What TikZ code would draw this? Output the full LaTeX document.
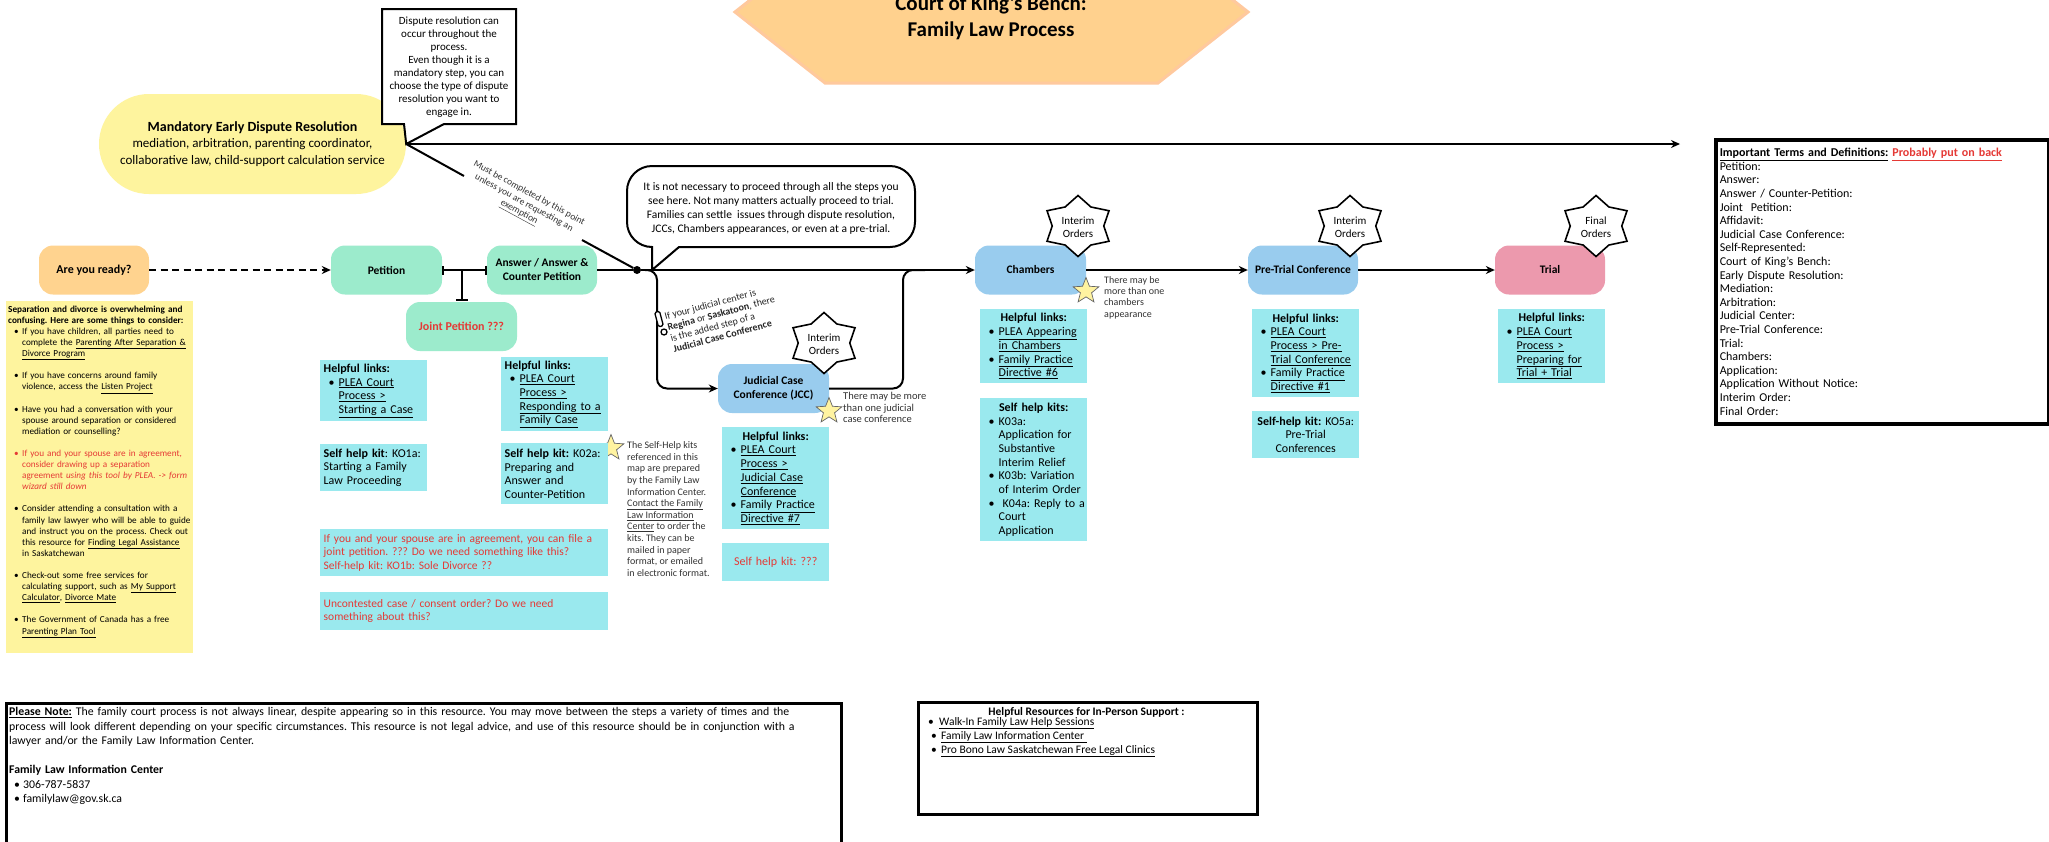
\documentclass[tikz,border=0pt]{standalone}
\usepackage{fontspec}
\setmainfont{Carlito}
\usetikzlibrary{arrows.meta,shapes.geometric,calc}

\definecolor{mint}{HTML}{9CEBCC}
\definecolor{infocyan}{HTML}{9AE9EE}
\definecolor{stepblue}{HTML}{99CCEE}
\definecolor{trialpink}{HTML}{EC99AD}
\definecolor{readyorange}{HTML}{FFD38F}
\definecolor{noteyellow}{HTML}{FEF49E}
\definecolor{alertred}{HTML}{E53935}
\definecolor{hexfill}{HTML}{FFD18E}
\definecolor{hexedge}{HTML}{FFC99E}
\definecolor{notegray}{HTML}{333333}
\definecolor{starfill}{HTML}{FFF3A0}

\newlength\bulpre \setlength\bulpre{5pt}
\newlength\bulw   \setlength\bulw{10pt}
\newcommand\bul{\hspace*{\bulpre}\makebox[\bulw][l]{•}}
\newcommand\bulind{\hspace*{\dimexpr\bulpre+\bulw\relax}}
\newcommand\fsz[2]{\fontsize{#1}{#2}\selectfont}
\newcommand\ctr[1]{\makebox[\hsize][c]{#1}}

\tikzset{
  stepbox/.style={rounded corners=14pt, minimum height=49pt, inner sep=2pt, align=center, font=\bfseries\fsz{11.5}{14}},
  infobox/.style={fill=infocyan, anchor=north west, inner xsep=3.5pt, inner ysep=0pt, text width=100pt, align=left, font=\fsz{12}{13.7}},
  mainln/.style={line width=2pt, draw=black},
  tip/.style={-{Stealth[length=9pt,width=8pt]}},
  ystar/.style={star, star points=5, star point ratio=2.3, minimum size=27pt, inner sep=0pt, fill=starfill, draw=black!60, line width=0.7pt},
  hstar/.style={line width=1.6pt, draw=black, fill=white, line join=miter},
  startext/.style={align=center, font=\fsz{11}{13}, inner sep=0pt},
  sidenote/.style={anchor=north west, align=left, inner sep=0pt, text=notegray},
  framebox/.style={draw=black, line width=3pt},
  slopenote/.style={rotate=-28.5, inner sep=0pt, text=notegray, font=\fsz{9.5}{11}},
}

% six-pointed outlined star centred on a point
\newcommand\hexagram[1]{%
  \draw[hstar, shift={(#1)}] plot[variable=\k, samples at={0,...,11}]
    ({35.8*(0.86+0.14*cos(180*\k))*cos(90+30*\k)},
     {30.5*(0.86+0.14*cos(180*\k))*sin(90+30*\k)}) -- cycle;}

\begin{document}
\frenchspacing
\begin{tikzpicture}[x=1pt,y=-1pt]
\clip (0,0) rectangle (2049,841);
\fill[white] (0,0) rectangle (2049,841);

% ---------- title hexagon ----------
\filldraw[fill=hexfill, draw=hexedge, line width=3pt]
  (735,12) -- (825,83) -- (1158,83) -- (1248,12) -- (1158,-59) -- (825,-59) -- cycle;
\node[align=center, inner sep=0pt, font=\bfseries\fsz{21}{26}] (title) at (991,18)
  {Court of King’s Bench:\\Family Law Process};

% ---------- early dispute resolution ----------
\node[fill=noteyellow, rounded corners=50pt, minimum width=307pt, minimum height=100pt,
      inner sep=0pt, align=center, font=\fsz{13}{16.5}] (med) at (252.5,144)
  {{\bfseries\fsz{14}{16.5}Mandatory Early Dispute Resolution}\\
   mediation, arbitration, parenting coordinator,\\
   collaborative law, child-support calculation service};

% callout above it
\filldraw[fill=white, draw=black, line width=2pt, line join=miter]
  (382,9) -- (516,9) -- (516,124) -- (444,124) -- (med.east) -- (404,124) -- (382,124) -- cycle;
\node[align=center, inner sep=0pt, font=\fsz{11}{13.1}] (drnote) at (449,67)
  {Dispute resolution can\\occur throughout the\\process.\\Even though it is a\\mandatory step, you can\\choose the type of dispute\\resolution you want to\\engage in.};

% ---------- main step boxes ----------
\node[stepbox, fill=readyorange, minimum width=110pt, font=\bfseries\fsz{12}{14}] (ready) at (94,270) {Are you ready?};
\node[stepbox, fill=mint, minimum width=111pt] (pet) at (386.5,270) {Petition};
\node[stepbox, fill=mint, minimum width=110pt] (ans) at (542,270) {Answer / Answer \&\\Counter Petition};
\node[stepbox, fill=mint, minimum width=111pt, text=alertred, font=\bfseries\fsz{12}{14}] (joint) at (461.5,326.5) {Joint Petition ???};
\node[stepbox, fill=stepblue, minimum width=111pt] (jcc) at (773.5,388.5) {Judicial Case\\Conference (JCC)};
\node[stepbox, fill=stepblue, minimum width=111pt] (cham) at (1030.5,270) {Chambers};
\node[stepbox, fill=stepblue, minimum width=110pt] (ptc) at (1303,270) {Pre-Trial Conference};
\node[stepbox, fill=trialpink, minimum width=110pt] (trial) at (1550,270) {Trial};

% ---------- connectors ----------
\node[circle, fill=black, inner sep=0pt, minimum size=8pt] (dot) at (637,270) {};
\coordinate (topend) at (1680,144);
\coordinate (jtop) at (joint.north |- pet.east);
\coordinate (brA) at (645,270);
\coordinate (brB) at (925,270);
\coordinate (gapA) at (464,176);
\coordinate (gapB) at (582,240);

\draw[mainln, tip, dash pattern=on 7pt off 4.5pt] (ready.east) -- (pet.west);
\draw[mainln, {Bar[width=9pt]}-{Bar[width=9pt]}] (pet.east) -- (ans.west);
\draw[mainln, -{Bar[width=12pt]}] (jtop) -- ([yshift=1pt]joint.north);
\draw[mainln] (ans.east) -- (dot);
\draw[mainln, tip] (dot) -- (cham.west);
\draw[mainln, tip] (cham.east) -- (ptc.west);
\draw[mainln, tip] (ptc.east) -- (trial.west);
\draw[mainln, tip] (med.east) -- (topend);
\draw[mainln, tip, rounded corners=10pt] (brA) -| (657,388.5) -- (jcc.west);
\draw[mainln, rounded corners=10pt] (jcc.east) -| (903,270) -- (brB);

% deadline note in the gap of the diagonal
\draw[mainln] (med.east) -- (gapA);
\draw[mainln] (gapB) -- (dot);
\node[slopenote] (mustA) at (529.2,193.3) {Must be completed by this point};
\node[slopenote] (mustB) at (524,203) {unless you are requesting an};
\node[slopenote] (mustC) at (518.8,212.7) {\underline{exemption}};

% speech bubble over the main line
\filldraw[fill=white, draw=black, line width=2pt, line join=miter]
  (679,247) [rounded corners=25pt] -- (915,247) -- (915,166) -- (627,166) -- (627,247)
  [sharp corners] -- (652,247) -- (brA -| 652,0) -- cycle;
\node[align=center, inner sep=0pt, font=\fsz{11.5}{14}] (bubble) at (771,208)
  {It is not necessary to proceed through all the steps you\\
   see here. Not many matters actually proceed to trial.\\
   Families can settle\ \ issues through dispute resolution,\\
   JCCs, Chambers appearances, or even at a pre-trial.};

% judicial centre note beside the JCC branch
\node[draw=black, fill=white, rounded corners=1.5pt, minimum width=5pt, minimum height=15pt, inner sep=0pt,
      line width=1.3pt, rotate=15] (pen) at (659,319) {};
\node[circle, draw=black, fill=white, line width=1.3pt, inner sep=0pt, minimum size=6pt] (penring) at (664,332) {};
\node[rotate=15, anchor=west, align=left, inner sep=0pt, text=black!85, font=\fsz{10}{11.3}] (jccnote) at (669,333)
  {If your judicial center is\\
   \textbf{Regina} or \textbf{Saskatoon}, there\\
   is the added step of a\\
   \textbf{Judicial Case Conference}};

% ---------- order stars ----------
\hexagram{1078,226}
\node[startext] (ordA) at (1078,227.5) {Interim\\Orders};
\hexagram{1350,226}
\node[startext] (ordB) at (1350,227.5) {Interim\\Orders};
\hexagram{1596,226}
\node[startext] (ordC) at (1596,227.5) {Final\\Orders};
\hexagram{824,343}
\node[startext] (ordD) at (824,344.5) {Interim\\Orders};

% ---------- small stars and their notes ----------
\node[ystar] (starCh) at (1086,291) {};
\node[sidenote, font=\fsz{10}{11.3}] (noteCh) at (1104,276) {There may be\\more than one\\chambers\\appearance};
\node[ystar] (starJ) at (829,411) {};
\node[sidenote, font=\fsz{10.5}{11.5}] (noteJ) at (843,392.5) {There may be more\\than one judicial\\case conference};
\node[ystar] (starK) at (611,448) {};
\node[sidenote, font=\fsz{10}{11.6}] (noteK) at (627,441.5)
  {The Self-Help kits\\referenced in this\\map are prepared\\by the Family Law\\Information Center.\\
   \underline{Contact the Family}\\\underline{Law Information}\\\underline{Center} to order the\\
   kits. They can be\\mailed in paper\\format, or emailed\\in electronic format.};

% ---------- information boxes ----------
\node[infobox, minimum height=61pt] (petLinks) at (320,360)
  {\textbf{Helpful links:}\\\bul\underline{PLEA Court}\\\bulind\underline{Process >}\\\bulind\underline{Starting a Case}};
\node[infobox, minimum height=47pt] (petKit) at (320,444)
  {\textbf{Self help kit}: KO1a:\\Starting a Family\\Law Proceeding};
\node[infobox, minimum height=74pt] (ansLinks) at (501,357)
  {\textbf{Helpful links:}\\\bul\underline{PLEA Court}\\\bulind\underline{Process >}\\\bulind\underline{Responding to a}\\\bulind\underline{Family Case}};
\node[infobox, minimum height=61pt] (ansKit) at (501,443)
  {\textbf{Self help kit:} K02a:\\Preparing and\\Answer and\\Counter-Petition};
\node[infobox, text width=281pt, minimum height=47pt, text=alertred, font=\fsz{11.5}{13.5}] (redA) at (320,529)
  {If you and your spouse are in agreement, you can file a\\joint petition. ??? Do we need something like this?\\Self-help kit: KO1b: Sole Divorce ??};
\node[infobox, text width=281pt, minimum height=38pt, text=alertred, font=\fsz{11.5}{13.5}] (redB) at (320,592)
  {Uncontested case / consent order? Do we need\\something about this?};
\node[infobox, minimum height=102pt] (jccLinks) at (722,427)
  {\ctr{\textbf{Helpful links:}}\\\bul\underline{PLEA Court}\\\bulind\underline{Process >}\\\bulind\underline{Judicial Case}\\\bulind\underline{Conference}\\
   \bul\underline{Family Practice}\\\bulind\underline{Directive \#7}};
\node[infobox, minimum height=38pt, text=alertred] (jccKit) at (722,543)
  {\ctr{Self help kit: ???}};
\node[infobox, minimum height=74pt] (chLinks) at (980,309)
  {\ctr{\textbf{Helpful links:}}\\\bul\underline{PLEA Appearing}\\\bulind\underline{in Chambers}\\\bul\underline{Family Practice}\\\bulind\underline{Directive \#6}};
\node[infobox, minimum height=143pt] (chKits) at (980,398)
  {\ctr{\textbf{Self help kits:}}\\\bul K03a:\\\bulind Application for\\\bulind Substantive\\\bulind Interim Relief\\
   \bul K03b: Variation\\\bulind of Interim Order\\\bul\mbox{\ K04a: Reply to a}\\\bulind Court\\\bulind Application};
\node[infobox, minimum height=88pt] (ptLinks) at (1252,309)
  {\ctr{\textbf{Helpful links:}}\\\bul\underline{PLEA Court}\\\bulind\underline{Process > Pre-}\\\bulind\underline{Trial Conference}\\
   \bul\underline{Family Practice}\\\bulind\underline{Directive \#1}};
\node[infobox, minimum height=47pt, align=center] (ptKit) at (1252,411)
  {\textbf{Self-help kit:} KO5a:\\Pre-Trial\\Conferences};
\node[infobox, minimum height=74pt] (trLinks) at (1498,309)
  {\ctr{\textbf{Helpful links:}}\\\bul\underline{PLEA Court}\\\bulind\underline{Process >}\\\bulind\underline{Preparing for}\\\bulind\underline{Trial + Trial}};

% ---------- getting ready list ----------
\node[fill=noteyellow, anchor=north west, minimum width=187pt, minimum height=352pt, inner sep=0pt] (readyBox) at (6,301) {};
\node[anchor=north west, inner sep=0pt, text width=184pt, align=left, font=\fsz{9.2}{11.1}] (readyList) at (8,305.5)
  {\setlength\bulpre{6pt}\setlength\bulw{8pt}%
   \textbf{Separation and divorce is overwhelming and}\\
   \textbf{confusing. Here are some things to consider:}\\
   \bul If you have children, all parties need to\\
   \bulind complete the \underline{Parenting After Separation \&}\\
   \bulind\underline{Divorce Program}\\[\baselineskip]
   \bul If you have concerns around family\\
   \bulind violence, access the \underline{Listen Project}\\[\baselineskip]
   \bul Have you had a conversation with your\\
   \bulind spouse around separation or considered\\
   \bulind mediation or counselling?\\[\baselineskip]
   \textcolor{alertred}{\bul If you and your spouse are in agreement,}\\
   \textcolor{alertred}{\bulind consider drawing up a separation}\\
   \textcolor{alertred}{\bulind agreement \textit{using this tool by PLEA. -> form}}\\
   \textcolor{alertred}{\bulind\textit{wizard still down}}\\[\baselineskip]
   \bul Consider attending a consultation with a\\
   \bulind family law lawyer who will be able to guide\\
   \bulind and instruct you on the process. Check out\\
   \bulind this resource for \underline{Finding Legal Assistance}\\
   \bulind in Saskatchewan\\[\baselineskip]
   \bul Check-out some free services for\\
   \bulind calculating support, such as \underline{My Support}\\
   \bulind\underline{Calculator}, \underline{Divorce Mate}\\[\baselineskip]
   \bul The Government of Canada has a free\\
   \bulind\underline{Parenting Plan Tool}};

% ---------- terms ----------
\node[draw=black, line width=3.5pt, anchor=north west, minimum height=284pt, text width=325pt,
      inner xsep=4pt, inner ysep=0pt, align=left, font=\fsz{12}{13.6}] (terms) at (1714,138)
  {\underline{\textbf{Important Terms and Definitions:}} \textcolor{alertred}{\underline{\textbf{Probably put on back}}}\\
   Petition:\\Answer:\\Answer / Counter-Petition:\\Joint\ \ Petition:\\Affidavit:\\Judicial Case Conference:\\
   Self-Represented:\\Court of King’s Bench:\\Early Dispute Resolution:\\Mediation:\\Arbitration:\\
   Judicial Center:\\Pre-Trial Conference:\\Trial:\\Chambers:\\Application:\\Application Without Notice:\\
   Interim Order:\\Final Order:};

% ---------- bottom notes ----------
\node[framebox, anchor=north west, minimum width=835pt, minimum height=160pt, inner sep=0pt] (noteBox) at (5,702) {};
\node[anchor=north west, inner sep=0pt, text width=825pt, align=left, font=\fsz{11.8}{14.5}] (noteText) at (9,707.5)
  {\setlength\bulpre{5pt}\setlength\bulw{9pt}%
   \underline{\textbf{Please Note:}} The family court process is not always linear, despite appearing so in this resource. You may move between the steps a variety of times and the\\
   process will look different depending on your specific circumstances. This resource is not legal advice, and use of this resource should be in conjunction with a\\
   lawyer and/or the Family Law Information Center.\\[\baselineskip]
   \textbf{Family Law Information Center}\\
   \bul 306-787-5837\\
   \bul familylaw@gov.sk.ca};

\node[framebox, anchor=north west, minimum width=339pt, minimum height=112pt, inner sep=0pt] (resBox) at (917,701) {};
\node[inner sep=0pt, font=\bfseries\fsz{11.5}{14}] (resTitle) at (1086.5,712) {Helpful Resources for In-Person Support :};
\node[anchor=north west, inner sep=0pt, align=left, font=\fsz{11.5}{14}] (resList) at (926,717)
  {\setlength\bulpre{2pt}\setlength\bulw{11pt}%
   \bul\underline{Walk-In Family Law Help Sessions}\\
   \bul\underline{Family Law Information Center\ }\\
   \bul\underline{Pro Bono Law Saskatchewan Free Legal Clinics}};

\end{tikzpicture}
\end{document}
